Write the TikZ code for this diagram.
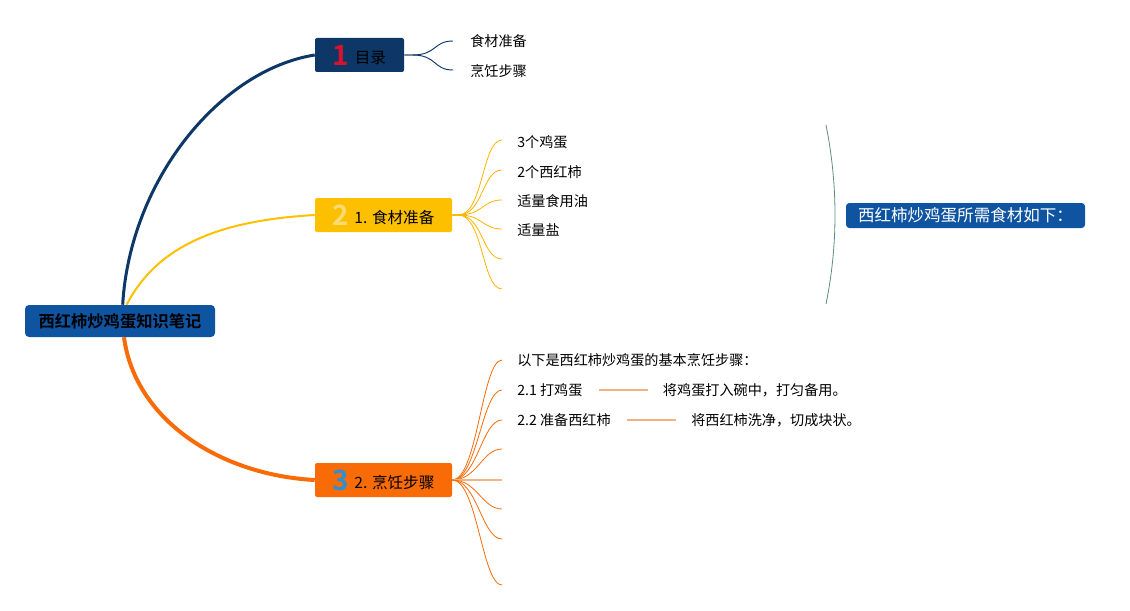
\documentclass[tikz,border=0pt]{standalone}
\usepackage{fontspec}
\setmainfont{Noto Sans CJK SC}[BoldFont={Noto Sans CJK SC Bold}]
\usetikzlibrary{positioning}
\definecolor{rootblue}{RGB}{14,84,160}
\definecolor{navy}{RGB}{12,55,103}
\definecolor{gold}{RGB}{253,192,0}
\definecolor{carrot}{RGB}{249,107,7}
\definecolor{peach}{RGB}{244,177,131}
\definecolor{numred}{RGB}{217,17,43}
\definecolor{numyellow}{RGB}{248,219,115}
\definecolor{numblue}{RGB}{47,143,208}
\definecolor{bracegreen}{RGB}{94,140,126}
\newcommand{\topicnum}[2]{\raisebox{-1pt}{\color{#1}\fontsize{21}{21}\selectfont\bfseries #2}\hspace{4pt}}
\tikzset{
  topic/.style={rounded corners=1.5pt, minimum height=25.5pt, inner sep=0pt, font=\fontsize{11.7}{13}\selectfont},
  leaf/.style={anchor=west, inner sep=0pt, font=\fontsize{10.6}{12}\selectfont},
  fan/.style={to path={.. controls +(25,0) and +(-20,0) .. (\tikztotarget)}},
}
\begin{document}
\begin{tikzpicture}[x=0.75pt, y=-0.75pt]
      \useasboundingbox (0,0) rectangle (1130,610);
      % main topics
      \node[topic, fill=rootblue, minimum width=142.5pt, minimum height=24pt, rounded corners=3pt, font=\fontsize{12.2}{14}\selectfont\bfseries] (root) at (120,321) {西红柿炒鸡蛋知识笔记};
      \node[topic, fill=navy, minimum width=66.75pt] (b1) at (359.5,55) {\topicnum{numred}{1}目录};
      \node[topic, fill=gold, minimum width=102.75pt] (b2) at (383.5,215) {\topicnum{numyellow}{2}1. 食材准备};
      \node[topic, fill=carrot, minimum width=102.75pt] (b3) at (383.5,480) {\topicnum{numblue}{3}2. 烹饪步骤};
      \draw[navy, line width=2.25pt] ([xshift=2pt]root.north) .. controls (130,180) and (220,70) .. (b1.west);
      \draw[gold, line width=1.5pt] ([xshift=5pt]root.north) .. controls (160,240) and (230,220) .. (b2.west);
      \draw[carrot, line width=3pt] ([xshift=3pt]root.south) .. controls (135,420) and (220,475) .. (b3.west);
      % 目录
      \coordinate (m1) at (453,41);
      \coordinate (m2) at (453,70);
      \node[leaf] (t1) at (470,41) {食材准备};
      \node[leaf] (t2) at (470,71) {烹饪步骤};
      \begin{scope}[navy, line width=0.7pt]
        \draw (b1.east) -- ++(8,0) to[fan] (m1);
        \draw (b1.east) -- ++(8,0) to[fan] (m2);
      \end{scope}
      % 食材
      \coordinate (f1) at (502,140);
      \coordinate (f2) at (502,170);
      \coordinate (f3) at (502,200);
      \coordinate (f4) at (502,229);
      \coordinate (f5) at (502,259);
      \coordinate (f6) at (502,289);
      \begin{scope}[gold!80!orange, line width=0.6pt]
        \draw (b2.east) -- ++(6,0) to[fan] (f1);
        \draw (b2.east) -- ++(6,0) to[fan] (f2);
        \draw (b2.east) -- ++(6,0) to[fan] (f3);
        \draw (b2.east) -- ++(6,0) to[fan] (f4);
        \draw (b2.east) -- ++(6,0) to[fan] (f5);
        \draw (b2.east) -- ++(6,0) to[fan] (f6);
      \end{scope}
      \node[leaf] (egg) at (517,142) {3个鸡蛋};
      \node[leaf] (tomato) at (517,172) {2个西红柿};
      \node[leaf] (oil) at (517,201) {适量食用油};
      \node[leaf] (salt) at (517,230) {适量盐};
      % 食材 note
      \coordinate (br1) at (826,125);
      \coordinate (br2) at (826,304);
      \draw[bracegreen, line width=0.6pt] (br1) .. controls (838,185) and (838,245) .. (br2);
      \node[topic, fill=rootblue, text=white, minimum width=179.25pt, minimum height=18.75pt, rounded corners=2.5pt, font=\fontsize{12.4}{14}\selectfont] (note) at (965.5,215.5) {西红柿炒鸡蛋所需食材如下：};
      % 步骤
      \coordinate (s1) at (502,360);
      \coordinate (s2) at (502,390);
      \coordinate (s3) at (502,420);
      \coordinate (s4) at (502,449);
      \coordinate (s5) at (502,480);
      \coordinate (s6) at (502,509);
      \coordinate (s7) at (502,539);
      \coordinate (s8) at (502,585);
      \begin{scope}[carrot, line width=0.6pt]
        \draw (b3.east) to[fan] (s1);
        \draw (b3.east) to[fan] (s2);
        \draw (b3.east) to[fan] (s3);
        \draw (b3.east) to[fan] (s4);
        \draw[peach, line width=1.2pt] (b3.east) -- (s5);
        \draw (b3.east) to[fan] (s6);
        \draw (b3.east) to[fan] (s7);
        \draw (b3.east) to[fan] (s8);
      \end{scope}
      \node[leaf] (intro) at (517,360) {以下是西红柿炒鸡蛋的基本烹饪步骤：};
      \node[leaf] (st1) at (517,390) {2.1 打鸡蛋};
      \node[leaf] (st2) at (517,420) {2.2 准备西红柿};
      \node[leaf, right=60pt of st1] (do1) {将鸡蛋打入碗中，打匀备用。};
      \node[leaf, right=60pt of st2] (do2) {将西红柿洗净，切成块状。};
      \draw[peach, line width=1.5pt, shorten <=12pt, shorten >=11pt] (st1.east) -- (do1.west);
      \draw[peach, line width=1.5pt, shorten <=12pt, shorten >=11pt] (st2.east) -- (do2.west);
    \end{tikzpicture}
\end{document}
